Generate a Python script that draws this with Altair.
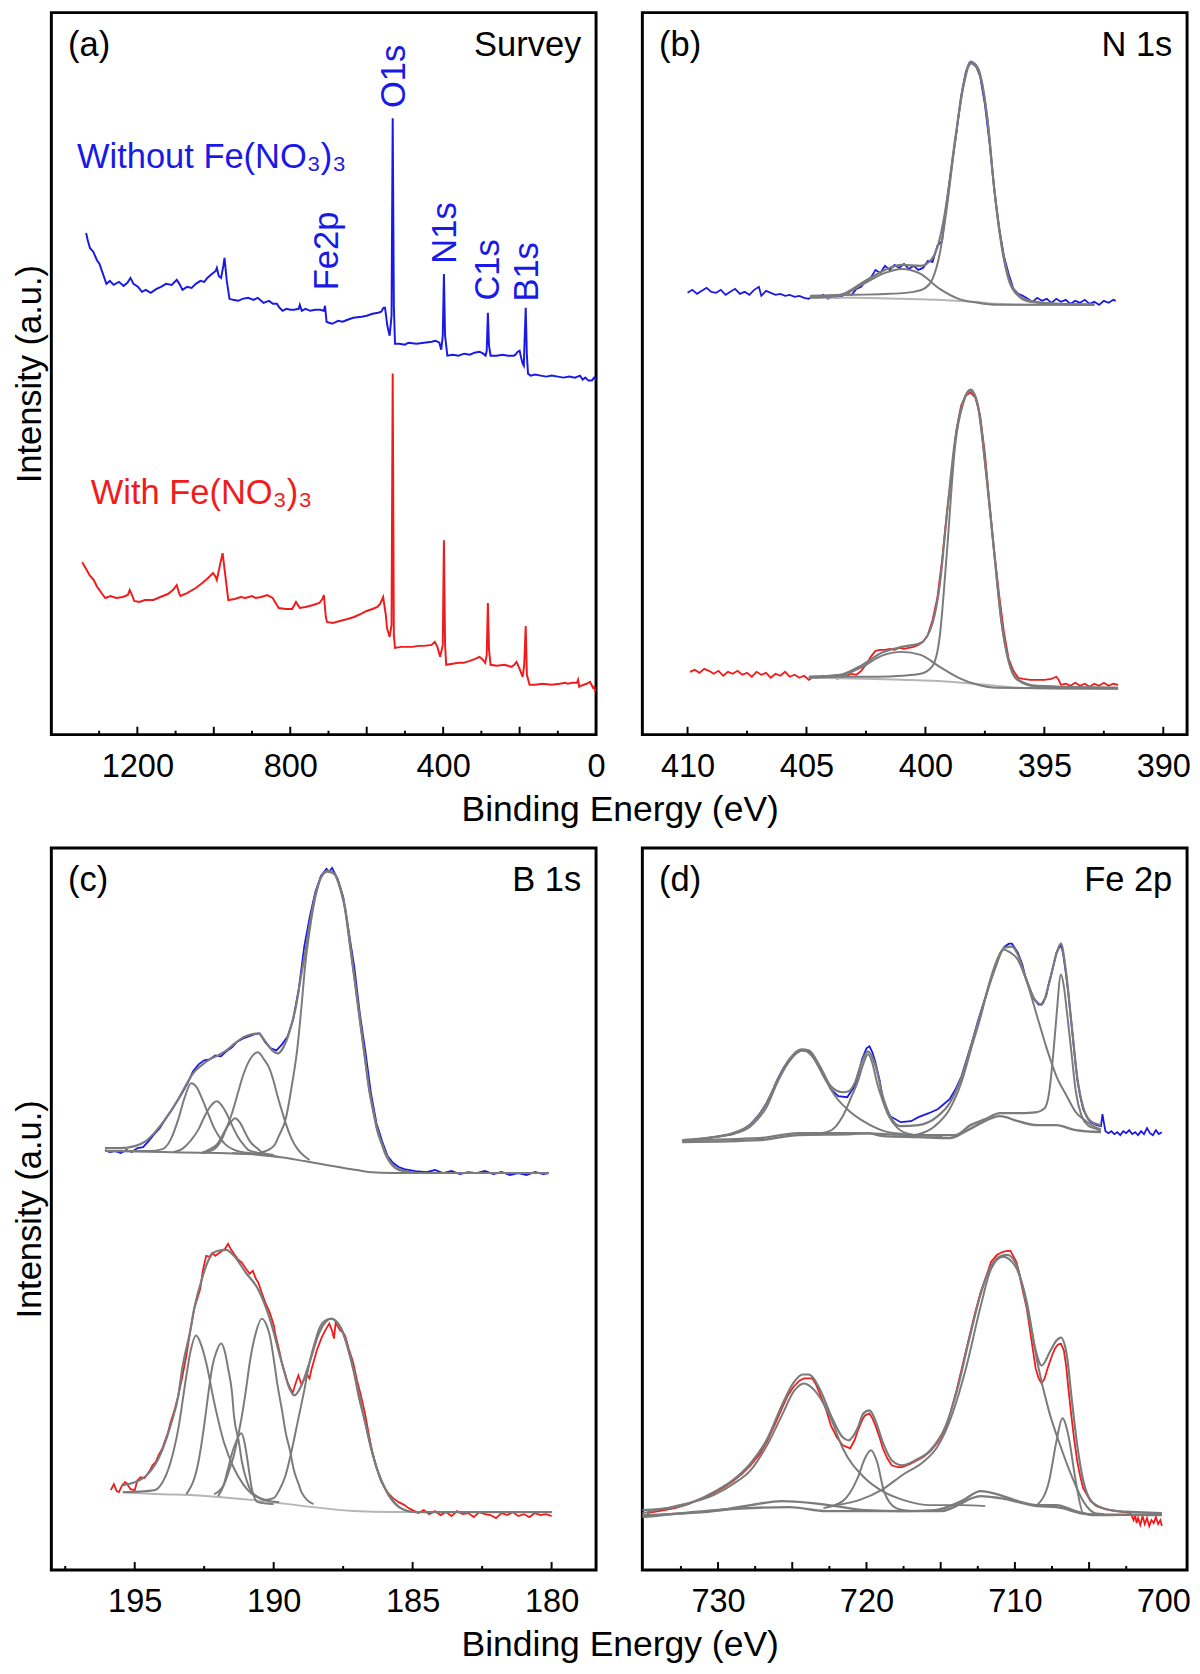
import altair as alt
import pandas as pd

FONT = "Liberation Sans"
BLUE = "#1a1ae6"
RED = "#f01c1c"
GRAY = "#7b7b7b"
LGRAY = "#b5b5b5"
W, H = 553, 733
YMAX = 724

# ---------------- (a) Survey ----------------
A_BLUE = [(1334, 503), (1330, 496), (1324, 488), (1315, 484), (1306, 476), (1299, 472), (1290, 462), (1281, 452),
          (1272, 455), (1262, 451), (1248, 454), (1236, 450), (1226, 453), (1218, 458), (1210, 452), (1198, 449),
          (1188, 444), (1178, 446), (1165, 443), (1150, 447), (1138, 449), (1125, 452), (1110, 451), (1097, 456),
          (1090, 452), (1082, 446), (1070, 449), (1058, 448), (1047, 452), (1035, 455), (1025, 454), (1017, 458),
          (1005, 462), (995, 465), (992, 468), (987, 460), (981, 458), (975, 470), (972, 478), (966, 455),
          (959, 437), (950, 436), (936, 435), (925, 437), (910, 438), (896, 436), (885, 438), (870, 433),
          (856, 435), (845, 432), (835, 432), (828, 428), (820, 425), (810, 427), (800, 426), (790, 426),
          (778, 427), (775, 431), (770, 425), (760, 427), (748, 425), (734, 426), (722, 426), (712, 425),
          (709, 430), (705, 414), (699, 413), (690, 412), (675, 415), (663, 414), (650, 416), (635, 418),
          (613, 419), (600, 420), (585, 422), (570, 423), (562, 424), (556, 428), (552, 428), (546, 410),
          (540, 400), (535, 420), (532, 618), (529, 430), (526, 392), (515, 392), (500, 391), (491, 393),
          (470, 392), (450, 393), (430, 394), (420, 395), (410, 393), (405, 386), (401, 400), (398, 462),
          (395, 400), (389, 380), (375, 381), (360, 380), (345, 382), (330, 381), (318, 383), (305, 384),
          (295, 382), (289, 380), (286, 385), (283, 423), (280, 390), (276, 380), (272, 380), (260, 380),
          (245, 381), (230, 380), (215, 380), (211, 381), (205, 384), (200, 385), (196, 378), (192, 372),
          (189, 370), (187, 395), (184, 428), (181, 380), (178, 362), (171, 360), (160, 361), (145, 360),
          (130, 359), (116, 360), (100, 359), (85, 358), (70, 359), (55, 358), (42, 360), (35, 356),
          (28, 358), (20, 355), (11, 355), (5, 358), (0, 356)]
A_RED = [(1344, 173), (1340, 170), (1334, 166), (1325, 160), (1314, 155), (1305, 148), (1299, 145), (1290, 140),
         (1284, 137), (1270, 139), (1255, 137), (1238, 138), (1225, 140), (1220, 145), (1214, 140), (1208, 134),
         (1195, 133), (1180, 135), (1158, 135), (1140, 138), (1120, 141), (1107, 145), (1097, 150), (1090, 141),
         (1087, 139), (1070, 142), (1047, 147), (1030, 152), (1015, 157), (1002, 162), (995, 158), (992, 155),
         (985, 168), (977, 182), (970, 160), (962, 135), (945, 136), (930, 138), (917, 137), (900, 139),
         (890, 137), (876, 138), (860, 140), (846, 137), (835, 130), (830, 127), (812, 126), (795, 126),
         (785, 133), (775, 127), (760, 128), (740, 130), (724, 132), (716, 136), (712, 140), (707, 118),
         (704, 113), (689, 112), (670, 114), (650, 116), (633, 118), (615, 121), (600, 124), (585, 126),
         (572, 128), (565, 131), (557, 138), (550, 120), (547, 107), (540, 98), (535, 110), (532, 362),
         (529, 100), (526, 87), (510, 88), (495, 88), (481, 88), (465, 89), (450, 89), (430, 90),
         (422, 93), (415, 88), (408, 78), (401, 90), (398, 195), (395, 90), (392, 70), (375, 71),
         (360, 72), (347, 72), (330, 74), (316, 76), (305, 78), (298, 76), (290, 72), (286, 80),
         (283, 132), (280, 85), (276, 70), (260, 69), (240, 70), (221, 68), (214, 70), (208, 73),
         (200, 66), (192, 58), (188, 70), (184, 109), (181, 60), (174, 50), (160, 50), (140, 51),
         (116, 50), (95, 51), (80, 52), (74, 51), (62, 52), (50, 52), (47, 55), (44, 48),
         (40, 49), (25, 51), (16, 53), (12, 50), (8, 47), (5, 48), (2, 43)]
A_PEAK_NAMES = ["O1s", "Fe2p", "N1s", "C1s", "B1s"]
A_PEAK_X = [529, 703, 396, 281, 181]
A_PEAK_Y = [660, 485, 503, 466, 464]

# ---------------- (b) N 1s ----------------
B_BLUE = [(410.0, 443), (409.8, 446), (409.6, 442), (409.4, 445), (409.2, 448), (409.0, 444), (408.8, 443),
          (408.6, 446), (408.4, 441), (408.2, 444), (408.0, 447), (407.8, 442), (407.6, 444), (407.4, 441),
          (407.2, 446), (407.0, 449), (406.9, 440), (406.7, 445), (406.5, 443), (406.3, 441), (406.1, 442),
          (405.9, 440), (405.7, 441), (405.5, 439), (405.3, 440), (405.1, 438), (404.9, 437), (404.7, 440),
          (404.5, 438), (404.3, 441), (404.1, 437), (403.9, 439), (403.7, 438), (403.5, 440), (403.3, 442),
          (403.1, 441), (402.9, 447), (402.7, 449), (402.5, 455), (402.3, 458), (402.1, 466), (401.9, 463),
          (401.7, 470), (401.5, 466), (401.3, 471), (401.1, 468), (400.9, 472), (400.7, 467), (400.5, 470),
          (400.3, 466), (400.1, 468), (399.9, 475), (399.7, 474), (399.5, 490), (399.3, 495), (399.1, 535),
          (398.9, 570), (398.7, 603), (398.5, 640), (398.3, 665), (398.1, 674), (397.9, 672), (397.7, 660),
          (397.5, 632), (397.3, 592), (397.1, 546), (396.9, 508), (396.7, 480), (396.5, 462), (396.3, 447),
          (396.1, 442), (395.9, 440), (395.7, 437), (395.5, 434), (395.3, 438), (395.1, 435), (394.9, 437),
          (394.7, 433), (394.5, 437), (394.3, 434), (394.1, 436), (393.9, 432), (393.7, 435), (393.5, 433),
          (393.3, 436), (393.1, 432), (392.9, 434), (392.7, 431), (392.5, 435), (392.3, 433), (392.1, 436),
          (392.0, 435)]
B_BLUE_BG = [(404.85, 438), (403.0, 438), (401.0, 437), (399.5, 436), (398.0, 434), (397.0, 432), (395.5, 431),
             (392.9, 431)]
B_BLUE_C1 = [(404.85, 438), (403.6, 440), (402.6, 452), (401.7, 463), (401.0, 467), (400.2, 462), (399.4, 447),
             (398.6, 437), (397.8, 433), (397.0, 431), (392.9, 431)]
B_BLUE_C2 = [(404.85, 440), (403.0, 441), (401.5, 442), (400.5, 444), (400.0, 448), (399.7, 457), (399.4, 482),
             (399.1, 528), (398.75, 595), (398.4, 650), (398.1, 673), (397.8, 667), (397.4, 618), (397.1, 545),
             (396.8, 490), (396.5, 456), (396.1, 440), (395.6, 434), (394.5, 432), (392.9, 431)]
B_BLUE_ENV = [(404.85, 439), (403.6, 441), (402.6, 454), (401.7, 466), (401.0, 471), (400.2, 470), (399.7, 478),
              (399.4, 497), (399.1, 535), (398.75, 597), (398.4, 652), (398.1, 675), (397.8, 669), (397.4, 619),
              (397.1, 546), (396.8, 492), (396.5, 458), (396.1, 441), (395.6, 435), (394.5, 432), (392.9, 431)]
B_RED = [(409.9, 63), (409.7, 65), (409.5, 62), (409.3, 66), (409.1, 64), (408.9, 61), (408.7, 64), (408.5, 59),
         (408.3, 63), (408.1, 61), (407.9, 64), (407.7, 60), (407.5, 62), (407.3, 58), (407.1, 63), (406.9, 60),
         (406.7, 62), (406.5, 57), (406.3, 61), (406.1, 59), (405.9, 63), (405.7, 58), (405.5, 60), (405.3, 57),
         (405.1, 59), (404.9, 55), (404.7, 58), (404.5, 57), (404.3, 59), (404.1, 57), (403.9, 58), (403.7, 56),
         (403.5, 58), (403.3, 59), (403.1, 61), (402.9, 60), (402.7, 64), (402.5, 70), (402.3, 78), (402.1, 84),
         (401.9, 85), (401.7, 85), (401.5, 86), (401.3, 85), (401.1, 87), (400.9, 86), (400.7, 87), (400.5, 88),
         (400.3, 90), (400.1, 93), (399.9, 100), (399.7, 115), (399.5, 137), (399.3, 175), (399.1, 222),
         (398.9, 262), (398.7, 305), (398.5, 330), (398.3, 340), (398.1, 343), (397.9, 338), (397.7, 320),
         (397.5, 282), (397.3, 230), (397.1, 182), (396.9, 140), (396.7, 103), (396.5, 76), (396.3, 64),
         (396.1, 57), (395.9, 56), (395.6, 55), (395.3, 55), (395.0, 55), (394.7, 56), (394.5, 58), (394.4, 55),
         (394.3, 50), (394.1, 51), (393.9, 49), (393.7, 52), (393.5, 49), (393.3, 51), (393.1, 48), (392.9, 51),
         (392.7, 49), (392.5, 52), (392.3, 49), (392.1, 51), (391.9, 50)]
B_RED_BG = [(404.9, 57), (401.0, 55), (399.0, 53), (397.5, 50), (396.0, 47), (394.0, 46), (391.9, 46)]
B_RED_C1 = [(404.9, 57), (403.6, 59), (402.65, 68), (401.85, 79), (401.0, 83), (400.2, 80), (399.4, 68),
            (398.6, 57), (397.8, 50), (397.0, 47), (391.9, 46)]
B_RED_C2 = [(404.9, 58), (402.0, 58), (401.0, 59), (400.2, 61), (399.7, 69), (399.4, 98), (399.1, 182),
            (398.75, 290), (398.4, 333), (398.1, 345), (397.8, 330), (397.45, 262), (397.1, 180), (396.8, 112),
            (396.5, 73), (396.15, 55), (395.3, 48), (391.9, 47)]
B_RED_ENV = [(404.9, 58), (403.6, 60), (402.65, 70), (401.85, 82), (401.0, 88), (400.2, 92), (399.7, 112),
             (399.4, 150), (399.1, 220), (398.75, 296), (398.4, 335), (398.1, 346), (397.8, 331), (397.45, 264),
             (397.1, 181), (396.8, 113), (396.5, 74), (396.15, 56), (395.3, 49), (391.9, 47)]

# ---------------- (c) B 1s ----------------
C_BLUE = [(196.07, 421), (195.9, 419), (195.7, 420), (195.5, 418), (195.3, 421), (195.1, 419), (194.9, 423),
          (194.7, 424), (194.5, 430), (194.3, 437), (194.1, 443), (193.9, 452), (193.7, 460), (193.5, 469),
          (193.3, 478), (193.1, 488), (192.9, 500), (192.7, 507), (192.5, 511), (192.3, 512), (192.1, 516),
          (191.9, 515), (191.7, 520), (191.5, 524), (191.3, 530), (191.1, 533), (190.9, 535), (190.7, 537),
          (190.5, 538), (190.3, 529), (190.1, 523), (189.9, 521), (189.7, 527), (189.5, 535), (189.3, 552),
          (189.1, 582), (188.9, 625), (188.7, 655), (188.5, 680), (188.3, 696), (188.1, 703), (188.0, 700),
          (187.9, 704), (187.7, 693), (187.5, 675), (187.3, 640), (187.1, 605), (186.9, 558), (186.7, 520),
          (186.5, 478), (186.3, 448), (186.1, 430), (185.9, 415), (185.7, 408), (185.5, 404), (185.3, 402),
          (185.1, 401), (184.9, 400), (184.5, 399), (184.2, 401), (183.9, 398), (183.6, 400), (183.3, 397),
          (183.0, 399), (182.7, 398), (182.4, 400), (182.1, 397), (181.8, 399), (181.5, 396), (181.2, 398),
          (180.9, 396), (180.6, 399), (180.3, 397), (180.1, 398)]
C_BLUE_BG = [(196.07, 420), (194.0, 419), (192.0, 418), (190.9, 417), (189.8, 414), (188.9, 410), (187.9, 405),
             (187.0, 401), (186.6, 399), (185.7, 398), (180.1, 398)]
C_BLUE_CA = [(196.07, 420), (194.5, 420), (194.0, 422), (193.7, 432), (193.43, 452), (193.2, 474), (192.97, 488),
             (192.75, 483), (192.57, 472), (192.35, 457), (192.14, 443), (191.9, 432), (191.71, 426), (191.4, 421),
             (191.14, 419), (190.5, 417), (189.8, 414)]
C_BLUE_CB = [(193.6, 419), (193.3, 422), (193.0, 430), (192.7, 442), (192.5, 454), (192.3, 464), (192.04, 470),
             (191.85, 465), (191.7, 458), (191.5, 446), (191.3, 435), (191.1, 427), (190.9, 421), (190.5, 418),
             (190.0, 415)]
C_BLUE_CC = [(192.6, 418), (192.29, 422), (192.0, 428), (191.86, 435), (191.7, 443), (191.57, 448), (191.39, 453),
             (191.2, 448), (191.0, 437), (190.86, 430), (190.6, 423), (190.43, 419), (190.0, 416)]
C_BLUE_CD = [(192.6, 418), (192.14, 422), (191.9, 430), (191.71, 442), (191.5, 458), (191.29, 478), (191.1, 496),
             (190.93, 508), (190.75, 516), (190.57, 519), (190.35, 512), (190.14, 502), (190.0, 490), (189.86, 475),
             (189.7, 460), (189.57, 448), (189.35, 432), (189.14, 422), (188.9, 415), (188.71, 411)]
C_BLUE_CE = [(191.5, 418), (190.86, 417), (190.4, 419), (190.0, 425), (189.8, 436), (189.57, 452), (189.35, 485),
             (189.14, 525), (189.0, 565), (188.86, 608), (188.7, 642), (188.57, 665), (188.4, 686), (188.29, 695),
             (188.07, 700), (187.9, 699), (187.79, 697), (187.6, 682), (187.43, 662), (187.3, 635), (187.14, 602),
             (187.0, 572), (186.86, 542), (186.7, 510), (186.57, 482), (186.4, 458), (186.29, 442), (186.1, 426),
             (186.0, 418), (185.85, 410), (185.71, 405), (185.5, 401), (185.29, 400), (184.8, 398), (180.1, 398)]
C_BLUE_ENV = [(196.07, 423), (195.5, 423), (195.0, 425), (194.6, 430), (194.3, 438), (193.9, 452), (193.43, 472),
              (193.1, 489), (192.9, 498), (192.6, 506), (192.3, 512), (192.0, 516), (191.7, 521), (191.4, 528),
              (191.1, 534), (190.8, 537), (190.55, 538), (190.3, 530), (190.05, 521), (189.85, 518), (189.65, 524),
              (189.45, 538), (189.2, 565), (189.0, 598), (188.86, 620), (188.7, 648), (188.5, 677), (188.3, 694),
              (188.07, 701), (187.85, 699), (187.6, 684), (187.43, 664), (187.14, 604), (186.86, 545),
              (186.57, 484), (186.29, 444), (186.0, 420), (185.71, 406), (185.3, 400), (184.8, 398), (180.1, 398)]
C_RED = [(195.86, 80), (195.75, 86), (195.65, 79), (195.57, 78), (195.45, 85), (195.35, 88), (195.29, 87),
         (195.15, 81), (195.0, 80), (194.9, 90), (194.79, 93), (194.65, 92), (194.57, 95), (194.45, 100),
         (194.36, 105), (194.25, 108), (194.14, 115), (194.0, 122), (193.93, 128), (193.8, 138), (193.71, 148),
         (193.57, 160), (193.43, 175), (193.3, 192), (193.14, 215), (193.0, 240), (192.86, 262), (192.75, 272),
         (192.64, 282), (192.55, 300), (192.43, 315), (192.3, 314), (192.21, 318), (192.1, 315), (192.0, 317),
         (191.85, 320), (191.75, 322), (191.64, 327), (191.55, 322), (191.43, 317), (191.3, 312), (191.14, 308),
         (191.0, 302), (190.86, 297), (190.75, 300), (190.64, 292), (190.55, 288), (190.43, 278), (190.3, 268),
         (190.14, 258), (190.0, 246), (189.93, 235), (189.8, 220), (189.71, 208), (189.6, 198), (189.5, 188),
         (189.4, 182), (189.31, 178), (189.2, 188), (189.11, 195), (189.0, 186), (188.93, 190), (188.8, 196),
         (188.71, 192), (188.65, 200), (188.57, 208), (188.45, 220), (188.29, 232), (188.15, 240), (188.0, 247),
         (187.9, 240), (187.83, 232), (187.77, 248), (187.71, 245), (187.6, 240), (187.5, 238), (187.43, 235),
         (187.3, 222), (187.14, 208), (187.0, 190), (186.86, 175), (186.7, 155), (186.57, 135), (186.45, 118),
         (186.29, 102), (186.15, 90), (186.0, 82), (185.85, 76), (185.71, 72), (185.5, 68), (185.29, 65),
         (185.15, 62), (185.0, 60), (184.8, 57), (184.6, 60), (184.4, 56), (184.2, 59), (184.0, 55), (183.8, 58),
         (183.6, 54), (183.4, 59), (183.2, 56), (183.0, 57), (182.8, 53), (182.6, 58), (182.4, 56), (182.2, 55),
         (182.0, 52), (181.8, 57), (181.6, 55), (181.4, 58), (181.2, 54), (181.0, 56), (180.8, 53), (180.6, 57),
         (180.4, 55), (180.2, 56), (180.0, 54)]
C_RED_BG = [(195.43, 78), (194.0, 76), (192.86, 75), (190.71, 70), (188.57, 63), (187.14, 59), (185.71, 58),
            (180.0, 58)]
C_RED_CA = [(195.43, 78), (194.29, 80), (194.0, 88), (193.71, 108), (193.43, 142), (193.14, 195), (193.0, 218),
            (192.79, 235), (192.6, 225), (192.43, 208), (192.14, 168), (191.79, 128), (191.43, 102), (191.1, 86),
            (190.86, 78), (190.29, 70), (189.8, 68)]
C_RED_CB = [(193.14, 76), (192.71, 108), (192.5, 145), (192.36, 175), (192.2, 205), (192.07, 218), (191.89, 227),
            (191.75, 218), (191.64, 202), (191.5, 178), (191.43, 155), (191.25, 128), (191.14, 108), (190.95, 88),
            (190.79, 78), (190.3, 70)]
C_RED_CC = [(192.0, 74), (191.8, 85), (191.64, 102), (191.5, 117), (191.36, 128), (191.17, 137), (191.05, 128),
            (190.97, 115), (190.88, 98), (190.79, 82), (190.57, 68), (190.0, 66)]
C_RED_CD = [(192.14, 76), (191.8, 85), (191.6, 100), (191.43, 115), (191.29, 133), (191.14, 155), (191.0, 180),
            (190.86, 208), (190.64, 238), (190.43, 252), (190.25, 245), (190.14, 235), (190.0, 212), (189.86, 185),
            (189.7, 160), (189.57, 138), (189.4, 118), (189.29, 102), (189.1, 86), (189.0, 78), (188.57, 66)]
C_RED_CE = [(190.4, 70), (190.0, 72), (189.8, 80), (189.57, 95), (189.35, 120), (189.14, 148), (188.9, 180),
            (188.71, 208), (188.5, 230), (188.36, 242), (188.15, 250), (187.93, 252), (187.75, 249), (187.57, 242),
            (187.35, 225), (187.14, 202), (186.95, 175), (186.71, 148), (186.5, 122), (186.29, 102), (186.05, 85),
            (185.86, 75), (185.6, 66), (185.43, 62), (184.9, 58), (180.0, 58)]
C_RED_ENV = [(195.43, 85), (195.0, 88), (194.57, 95), (194.14, 112), (193.71, 145), (193.43, 175), (193.29, 202),
             (193.0, 240), (192.86, 262), (192.6, 290), (192.43, 305), (192.2, 317), (192.0, 320), (191.71, 321),
             (191.43, 315), (191.0, 298), (190.57, 282), (190.14, 252), (189.71, 208), (189.43, 182),
             (189.26, 175), (189.0, 185), (188.71, 208), (188.36, 238), (187.93, 252), (187.57, 242),
             (187.14, 202), (186.71, 148), (186.29, 102), (185.86, 75), (185.43, 62), (184.9, 58), (180.0, 58)]

# ---------------- (d) Fe 2p ----------------
D_BLUE = [(732.4, 429), (731.5, 431), (730.3, 434), (729.0, 437), (728.4, 441), (727.8, 447), (727.2, 457),
          (726.7, 469), (726.3, 481), (726.0, 492), (725.6, 503), (725.2, 512), (724.8, 518), (724.4, 521),
          (723.9, 520), (723.5, 512), (723.1, 502), (722.7, 491), (722.4, 482), (721.9, 475), (721.3, 474),
          (720.8, 485), (720.5, 500), (720.3, 512), (720.0, 523), (719.8, 525), (719.6, 519), (719.4, 509),
          (719.1, 490), (718.9, 472), (718.6, 461), (718.4, 455), (717.7, 449), (717.0, 450), (716.5, 454),
          (715.8, 458), (715.2, 462), (714.8, 467), (714.4, 472), (714.0, 482), (713.6, 495), (712.9, 529),
          (712.5, 550), (712.1, 569), (711.7, 588), (711.3, 605), (711.0, 618), (710.7, 625), (710.4, 628),
          (710.2, 628), (709.8, 619), (709.5, 607), (709.3, 595), (709.0, 583), (708.7, 572), (708.4, 567),
          (708.2, 567), (707.9, 575), (707.7, 589), (707.4, 606), (707.2, 619), (706.9, 627), (706.75, 618),
          (706.6, 602), (706.4, 578), (706.2, 549), (706.0, 520), (705.8, 492), (705.6, 475), (705.4, 462),
          (705.1, 453), (704.9, 449), (704.5, 446), (704.2, 445), (704.1, 457), (704.0, 448), (703.9, 440),
          (703.7, 438), (703.5, 440), (703.3, 437), (703.1, 439), (702.9, 436), (702.7, 440), (702.5, 438),
          (702.3, 441), (702.1, 437), (701.9, 439), (701.7, 436), (701.5, 440), (701.3, 437), (701.1, 443),
          (700.9, 438), (700.7, 436), (700.5, 441), (700.3, 437), (700.1, 439)]
D_BLUE_BL1 = [(732.4, 429), (727.2, 431), (724.6, 436), (721.0, 437), (719.9, 438), (718.9, 435), (716.5, 434),
              (714.4, 433), (713.3, 440), (712.3, 448), (711.0, 455), (709.8, 450), (708.5, 446), (707.2, 446),
              (705.9, 441), (704.2, 439)]
D_BLUE_BL2 = [(732.4, 431), (727.2, 433), (724.6, 438), (721.0, 438), (716.5, 436), (714.0, 436), (713.0, 446),
              (712.0, 452), (711.0, 458), (709.5, 458), (708.5, 459)]
D_BLUE_CF = [(708.5, 459), (708.0, 463), (707.7, 478), (707.4, 520), (707.2, 555), (706.9, 597), (706.7, 585),
             (706.5, 560), (706.2, 520), (705.9, 480), (705.5, 455), (705.1, 446), (704.5, 442), (704.2, 440)]
D_BLUE_CM = [(717.5, 435), (716.5, 437), (715.4, 445), (714.4, 462), (713.6, 489), (712.9, 525), (712.3, 555),
             (711.7, 590), (711.2, 612), (710.8, 622), (710.3, 619), (709.8, 612), (709.2, 590), (708.5, 555),
             (707.9, 525), (707.2, 495), (706.5, 475), (705.9, 459), (705.2, 450), (704.6, 444), (704.2, 442)]
D_BLUE_C724 = [(732.4, 430), (730.3, 434), (729.0, 437), (727.8, 445), (726.7, 465), (726.0, 489), (725.2, 510),
               (724.3, 521), (723.65, 515), (722.9, 495), (722.1, 475), (721.3, 462), (720.1, 449), (718.8, 440),
               (717.5, 437), (714.9, 435)]
D_BLUE_C720 = [(723.65, 437), (722.5, 440), (721.6, 455), (721.0, 475), (720.6, 489), (720.2, 508), (719.9, 517),
               (719.6, 508), (719.3, 489), (718.9, 470), (718.5, 455), (717.9, 443), (717.5, 439), (716.2, 435)]
D_BLUE_ENV = [(732.4, 431), (730.3, 434), (729.0, 438), (727.8, 447), (726.7, 469), (726.0, 491), (725.2, 512),
              (724.4, 522), (723.9, 521), (723.1, 504), (722.4, 485), (721.6, 479), (721.2, 480), (720.8, 488),
              (720.3, 510), (719.9, 520), (719.4, 506), (718.9, 475), (718.4, 455), (717.7, 445), (716.5, 446),
              (715.2, 455), (714.4, 468), (713.6, 494), (712.9, 528), (712.1, 568), (711.3, 605), (710.7, 624),
              (710.2, 625), (709.8, 617), (709.3, 595), (708.7, 573), (708.2, 567), (707.7, 588), (707.2, 618),
              (706.9, 628), (706.6, 605), (706.2, 550), (705.8, 494), (705.4, 464), (704.9, 450), (704.2, 446)]
D_RED = [(734.8, 57), (734.0, 59), (732.9, 62), (732.0, 66), (731.4, 70), (730.8, 73), (730.3, 77), (729.6, 83),
         (729.0, 89), (728.4, 96), (727.8, 105), (727.2, 116), (726.7, 129), (726.2, 145), (725.7, 162),
         (725.3, 175), (724.9, 184), (724.5, 190), (724.2, 192), (723.65, 192), (723.4, 186), (723.1, 175),
         (722.7, 160), (722.4, 145), (722.0, 133), (721.6, 125), (721.1, 122), (720.8, 130), (720.6, 139),
         (720.3, 150), (720.1, 155), (719.8, 157), (719.6, 152), (719.4, 145), (719.1, 132), (718.9, 122),
         (718.6, 112), (718.3, 105), (717.9, 103), (717.6, 103), (717.1, 106), (716.7, 109), (716.2, 113),
         (715.7, 119), (715.2, 128), (714.65, 142), (714.3, 160), (713.9, 182), (713.5, 207), (713.1, 232),
         (712.7, 257), (712.3, 279), (711.9, 296), (711.6, 309), (711.2, 316), (710.8, 319), (710.5, 320),
         (710.3, 320), (709.9, 309), (709.7, 297), (709.5, 282), (709.2, 262), (709.0, 242), (708.8, 222),
         (708.6, 202), (708.4, 192), (708.2, 187), (708.0, 192), (707.8, 202), (707.5, 215), (707.3, 222),
         (707.1, 226), (706.9, 227), (706.7, 220), (706.55, 205), (706.4, 182), (706.2, 155), (706.0, 130),
         (705.8, 109), (705.6, 94), (705.4, 82), (705.1, 74), (704.9, 69), (704.5, 64), (704.1, 62), (703.6, 60),
         (703.1, 59), (702.6, 58), (702.2, 57), (702.0, 50), (701.9, 55), (701.8, 47), (701.7, 52), (701.55, 45),
         (701.4, 54), (701.25, 46), (701.1, 52), (700.95, 44), (700.8, 50), (700.65, 47), (700.5, 53),
         (700.35, 46), (700.2, 50), (700.1, 44)]
D_RED_BL1 = [(735.1, 55), (730.3, 59), (727.8, 65), (725.7, 69), (723.65, 67), (722.1, 64), (720.1, 60),
             (717.5, 59), (715.4, 60), (713.6, 69), (712.3, 79), (711.0, 75), (709.8, 69), (708.5, 65),
             (707.2, 65), (705.9, 59), (704.6, 55), (700.1, 56)]
D_RED_BL2 = [(735.1, 53), (725.2, 63), (722.7, 59), (720.1, 59), (715.0, 59), (712.3, 74), (711.0, 72),
             (708.5, 64), (707.2, 63), (705.1, 56), (700.1, 55)]
D_RED_C724 = [(735.1, 57), (732.9, 64), (730.3, 75), (729.0, 86), (727.8, 100), (726.7, 125), (725.7, 155),
              (724.9, 179), (724.2, 187), (723.5, 180), (722.9, 167), (722.4, 152), (721.6, 122), (720.1, 92),
              (718.8, 78), (717.5, 70), (715.7, 65), (713.6, 65), (712.0, 64)]
D_RED_C720 = [(722.9, 62), (721.6, 69), (720.6, 92), (720.1, 112), (719.7, 120), (719.3, 109), (718.8, 78),
              (718.0, 62), (717.0, 59)]
D_RED_CM = [(722.0, 65), (720.5, 70), (719.0, 80), (717.5, 96), (716.2, 108), (715.2, 124), (714.4, 149),
            (713.3, 202), (712.3, 265), (711.6, 302), (710.8, 314), (710.0, 305), (709.2, 269), (708.5, 209),
            (707.7, 159), (706.95, 125), (706.2, 95), (705.4, 69), (704.6, 57), (704.0, 56)]
D_RED_CF = [(708.5, 65), (707.7, 89), (707.2, 129), (706.8, 152), (706.4, 135), (705.9, 89), (705.4, 57),
            (705.0, 56)]
D_RED_ENV = [(735.1, 60), (732.9, 63), (731.4, 70), (730.3, 78), (729.0, 90), (727.8, 107), (726.7, 131),
             (725.7, 165), (724.9, 188), (724.3, 196), (723.9, 196), (723.1, 180), (722.4, 155), (721.6, 133),
             (721.2, 130), (720.6, 142), (720.2, 157), (719.8, 160), (719.4, 150), (718.9, 128), (718.3, 110),
             (717.6, 105), (716.7, 110), (715.7, 120), (714.65, 145), (713.9, 180), (713.1, 230), (712.3, 277),
             (711.6, 305), (710.9, 315), (710.5, 316), (709.9, 306), (709.5, 285), (709.0, 250), (708.6, 220),
             (708.2, 205), (707.6, 220), (707.2, 230), (706.9, 233), (706.5, 215), (706.2, 175), (705.8, 125),
             (705.4, 90), (704.9, 70), (704.1, 62), (703.1, 59), (701.8, 58), (700.1, 57)]

# ---------------- axes ----------------
A_DOM, A_LAB, A_MAJ, A_MIN = [0, 1425], [0, 400, 800, 1200], [200, 400, 600, 800, 1000, 1200], [100, 300, 500, 700, 900, 1100, 1300]
B_DOM, B_LAB, B_MAJ, B_MIN = [389.0, 411.9], [390, 395, 400, 405, 410], [390, 395, 400, 405, 410], [392.5, 397.5, 402.5, 407.5]
C_DOM, C_LAB, C_MAJ, C_MIN = [178.4, 198.0], [180, 185, 190, 195], [180, 185, 190, 195], [182.5, 187.5, 192.5, 197.5]
D_DOM, D_LAB, D_MAJ, D_MIN = [698.4, 735.1], [700, 710, 720, 730], [705, 710, 715, 720, 725, 730], [702.5, 707.5, 712.5, 717.5, 722.5, 727.5, 732.5]


def panel(dom, labvals, major, minor, series, left, tag, name):
    xscale = alt.Scale(domain=dom, reverse=True, nice=False, zero=False)
    yscale = alt.Scale(domain=[0, YMAX], nice=False, zero=False)
    if left:
        xaxis = alt.Axis(values=labvals, format="d", ticks=False, domain=False, grid=False,
                         labelFlush=False, labelOverlap=False, labelFontSize=33, labelPadding=16,
                         labelColor="black", title="Binding Energy (eV)", titleFontSize=36,
                         titleFontWeight="normal", titleX=577, titleY=76, titleBaseline="middle",
                         titleAlign="center", titleColor="black")
        yaxis = alt.Axis(title="Intensity (a.u.)", labels=False, ticks=False, domain=False, grid=False,
                         titleFontSize=35, titleFontWeight="normal", titleX=-22, titleY=H / 2,
                         titleBaseline="middle", titleAlign="center", titleAngle=270, titleColor="black")
    else:
        xaxis = alt.Axis(values=labvals, format="d", ticks=False, domain=False, grid=False,
                         labelFlush=False, labelOverlap=False, labelFontSize=33, labelPadding=16,
                         labelColor="black", title=None)
        yaxis = None
    X = alt.X("x:Q", scale=xscale, axis=xaxis)
    Y = alt.Y("y:Q", scale=yscale, axis=yaxis)
    layers = []
    for pts, color, width, interp in series:
        df = pd.DataFrame(pts, columns=["x", "y"])
        layers.append(alt.Chart(df).mark_line(color=color, strokeWidth=width, interpolate=interp)
                      .encode(x=X, y=Y))
    layers.append(alt.Chart(pd.DataFrame({"x": major})).mark_rule(color="black", strokeWidth=2)
                  .encode(x=X, y=alt.value(H), y2=alt.value(H - 8)))
    layers.append(alt.Chart(pd.DataFrame({"x": minor})).mark_rule(color="black", strokeWidth=2)
                  .encode(x=X, y=alt.value(H), y2=alt.value(H - 4)))
    layers.append(alt.Chart(pd.DataFrame({"t": [tag]})).mark_text(align="left", baseline="middle", fontSize=35,
                                                                   color="black")
                  .encode(text="t:N", x=alt.value(17), y=alt.value(33)))
    layers.append(alt.Chart(pd.DataFrame({"t": [name]})).mark_text(align="right", baseline="middle", fontSize=35,
                                                                    color="black")
                  .encode(text="t:N", x=alt.value(W - 15), y=alt.value(33)))
    return layers, X, Y


# (a)
la, XA, YA = panel(A_DOM, A_LAB, A_MAJ, A_MIN,
                   [(A_BLUE, BLUE, 2, "linear"), (A_RED, RED, 2, "linear")], True, "(a)", "Survey")
peaks = pd.DataFrame({"t": A_PEAK_NAMES, "x": A_PEAK_X, "y": A_PEAK_Y})
la.append(alt.Chart(peaks).mark_text(angle=270, align="center", baseline="middle", fontSize=35, color=BLUE)
          .encode(text="t:N", x=XA, y=YA))
la.append(alt.Chart(pd.DataFrame({"t": ["Without Fe(NO₃)₃"]})).mark_text(align="left", baseline="middle",
                                                                          fontSize=35, color=BLUE)
          .encode(text="t:N", x=alt.value(26), y=alt.value(147)))
la.append(alt.Chart(pd.DataFrame({"t": ["With Fe(NO₃)₃"]})).mark_text(align="left", baseline="middle",
                                                                       fontSize=35, color=RED)
          .encode(text="t:N", x=alt.value(40), y=alt.value(488)))
pa = alt.layer(*la).properties(width=W, height=H)

# (b)
lb, _, _ = panel(B_DOM, B_LAB, B_MAJ, B_MIN,
                 [(B_BLUE, BLUE, 1.8, "linear"), (B_RED, RED, 1.8, "linear"),
                  (B_BLUE_BG, LGRAY, 2, "monotone"), (B_BLUE_C1, GRAY, 2, "monotone"),
                  (B_BLUE_C2, GRAY, 2, "monotone"), (B_BLUE_ENV, GRAY, 2.2, "monotone"),
                  (B_RED_BG, LGRAY, 2, "monotone"), (B_RED_C1, GRAY, 2, "monotone"),
                  (B_RED_C2, GRAY, 2, "monotone"), (B_RED_ENV, GRAY, 2.2, "monotone")],
                 False, "(b)", "N 1s")
pb = alt.layer(*lb).properties(width=W, height=H)

# (c)
lc, _, _ = panel(C_DOM, C_LAB, C_MAJ, C_MIN,
                 [(C_BLUE, BLUE, 1.8, "linear"), (C_RED, RED, 1.8, "linear"),
                  (C_BLUE_BG, GRAY, 2, "monotone"), (C_BLUE_CA, GRAY, 2, "monotone"),
                  (C_BLUE_CB, GRAY, 2, "monotone"), (C_BLUE_CC, GRAY, 2, "monotone"),
                  (C_BLUE_CD, GRAY, 2, "monotone"), (C_BLUE_CE, GRAY, 2, "monotone"),
                  (C_BLUE_ENV, GRAY, 2.2, "monotone"),
                  (C_RED_BG, LGRAY, 2, "monotone"), (C_RED_CA, GRAY, 2, "monotone"),
                  (C_RED_CB, GRAY, 2, "monotone"), (C_RED_CC, GRAY, 2, "monotone"),
                  (C_RED_CD, GRAY, 2, "monotone"), (C_RED_CE, GRAY, 2, "monotone"),
                  (C_RED_ENV, GRAY, 2.2, "monotone")],
                 True, "(c)", "B 1s")
pc = alt.layer(*lc).properties(width=W, height=H)

# (d)
ld, _, _ = panel(D_DOM, D_LAB, D_MAJ, D_MIN,
                 [(D_BLUE, BLUE, 1.8, "linear"), (D_RED, RED, 1.8, "linear"),
                  (D_BLUE_BL1, GRAY, 2.4, "monotone"), (D_BLUE_BL2, GRAY, 2.4, "monotone"),
                  (D_BLUE_CF, GRAY, 2, "monotone"), (D_BLUE_CM, GRAY, 2, "monotone"),
                  (D_BLUE_C724, GRAY, 2, "monotone"), (D_BLUE_C720, GRAY, 2, "monotone"),
                  (D_BLUE_ENV, GRAY, 2.2, "monotone"),
                  (D_RED_BL1, GRAY, 2.4, "monotone"), (D_RED_BL2, GRAY, 2.4, "monotone"),
                  (D_RED_C724, GRAY, 2, "monotone"), (D_RED_C720, GRAY, 2, "monotone"),
                  (D_RED_CM, GRAY, 2, "monotone"), (D_RED_CF, GRAY, 2, "monotone"),
                  (D_RED_ENV, GRAY, 2.2, "monotone")],
                 False, "(d)", "Fe 2p")
pdd = alt.layer(*ld).properties(width=W, height=H)

chart = (alt.concat(pa, pb, pc, pdd, columns=2, spacing={"row": 115, "column": 47}, bounds="flush")
         .properties(padding={"left": 3, "top": -10, "right": 0, "bottom": 0})
         .configure(font=FONT)
         .configure_view(stroke="black", strokeWidth=3)
         .configure_axis(grid=False))

chart.save("out.html", embed_options={"renderer": "svg", "actions": False})
